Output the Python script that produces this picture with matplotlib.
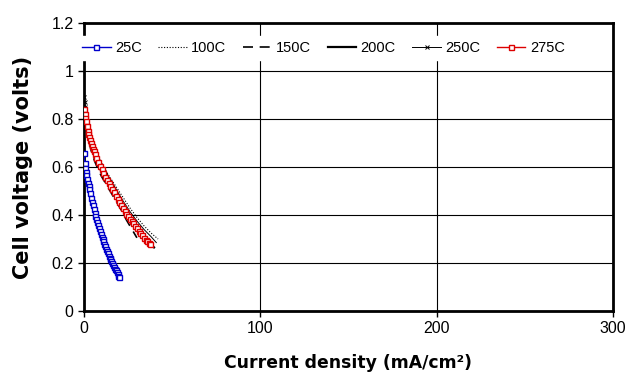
import matplotlib
matplotlib.use("Agg")
import matplotlib.pyplot as plt

# --- data ---
x_25 = [0, 0.3, 0.7, 1.0, 1.4, 1.8, 2.2, 2.6, 3.0, 3.5, 4.0, 4.5, 5.0, 5.5, 6.0,
        6.5, 7.0, 7.5, 8.0, 8.5, 9.0, 9.5, 10.0, 10.5, 11.0, 11.5, 12.0, 12.5,
        13.0, 13.5, 14.0, 14.5, 15.0, 15.5, 16.0, 16.5, 17.0, 17.5, 18.0, 18.5,
        19.0, 19.4, 19.7]
y_25 = [0.66, 0.615, 0.595, 0.58, 0.565, 0.55, 0.535, 0.522, 0.508, 0.49, 0.472,
        0.456, 0.44, 0.425, 0.41, 0.397, 0.385, 0.372, 0.36, 0.347, 0.335, 0.322,
        0.31, 0.30, 0.29, 0.28, 0.27, 0.26, 0.25, 0.24, 0.23, 0.222, 0.215, 0.207,
        0.20, 0.192, 0.185, 0.177, 0.17, 0.162, 0.155, 0.147, 0.14]

x_100 = [0, 1, 2, 4, 6, 8, 10, 14, 18, 22, 26, 30, 34, 38, 42]
y_100 = [0.87, 0.81, 0.775, 0.72, 0.68, 0.645, 0.615, 0.565, 0.52, 0.475, 0.43,
         0.39, 0.355, 0.325, 0.30]

x_150 = [0, 1, 2, 4, 6, 8, 10, 12, 14, 16, 18, 20, 22, 24, 26, 28, 30]
y_150 = [0.84, 0.77, 0.73, 0.67, 0.625, 0.59, 0.56, 0.535, 0.51, 0.485, 0.46,
         0.435, 0.41, 0.38, 0.355, 0.33, 0.305]

x_200 = [0, 1, 2, 4, 6, 8, 10, 14, 18, 22, 26, 30, 34, 38, 39.7]
y_200 = [0.86, 0.79, 0.75, 0.69, 0.645, 0.61, 0.58, 0.525, 0.475, 0.425, 0.38,
         0.34, 0.305, 0.275, 0.265]

x_250 = [0, 0.3, 0.6, 1, 2, 4, 6, 8, 10, 14, 18, 22, 26, 30, 34, 38, 41]
y_250 = [0.89, 0.87, 0.85, 0.82, 0.78, 0.72, 0.68, 0.645, 0.615, 0.56, 0.51,
         0.46, 0.415, 0.375, 0.34, 0.31, 0.285]

x_275 = [0, 0.3, 0.6, 1.0, 1.5, 2.0, 2.5, 3.0, 3.5, 4.0, 4.5, 5.0, 5.5, 6.0, 7.0,
         8.0, 9.0, 10.0, 11.0, 12.0, 13.0, 14.0, 15.0, 16.0, 17.0, 18.0, 19.0,
         20.0, 21.0, 22.0, 23.0, 24.0, 25.0, 26.0, 27.0, 28.0, 29.0, 30.0, 31.0,
         32.0, 33.0, 34.0, 35.0, 36.0, 37.0, 37.4]
y_275 = [0.843, 0.82, 0.805, 0.79, 0.77, 0.75, 0.737, 0.725, 0.712, 0.70, 0.688,
         0.675, 0.665, 0.655, 0.637, 0.62, 0.605, 0.59, 0.575, 0.56, 0.547, 0.535,
         0.522, 0.51, 0.495, 0.48, 0.467, 0.455, 0.442, 0.43, 0.417, 0.405, 0.395,
         0.385, 0.375, 0.365, 0.355, 0.345, 0.335, 0.325, 0.315, 0.305, 0.297,
         0.29, 0.282, 0.278]

x_ticks = [0, 100, 200, 300]
y_ticks = [0, 0.2, 0.4, 0.6, 0.8, 1, 1.2]
y_ticklabels = ["0", "0.2", "0.4", "0.6", "0.8", "1", "1.2"]

fig = plt.figure(figsize=(6.28, 3.85), dpi=100)
ax = fig.add_axes([84 / 628, 1 - 311 / 385, 529 / 628, 288 / 385])

ax.plot(x_25, y_25, color="#0000cc", lw=1, marker="s", ms=3.6, mfc="white",
        mec="#0000cc", mew=1, label="25C", zorder=4)
ax.plot(x_100, y_100, color="black", lw=0.8, ls=(0, (1, 1.5)), label="100C", zorder=3)
ax.plot(x_150, y_150, color="black", lw=1.2, ls=(0, (6, 4)), label="150C", zorder=3)
ax.plot(x_200, y_200, color="black", lw=1.6, label="200C", zorder=3)
ax.plot(x_250, y_250, color="black", lw=0.7, marker="x", ms=3, mew=0.7,
        markevery=[0, 1, 2], label="250C", zorder=3)
ax.plot(x_275, y_275, color="#dd0000", lw=1, marker="s", ms=3.6, mfc="white",
        mec="#dd0000", mew=1, label="275C", zorder=5)

ax.set_xlim(0, 300)
ax.set_ylim(0, 1.2)
ax.set_xticks(x_ticks)
ax.set_yticks(y_ticks)
ax.set_yticklabels(y_ticklabels)
ax.grid(True, color="black", lw=0.8)
ax.set_axisbelow(True)
for s in ax.spines.values():
    s.set_linewidth(2)
ax.tick_params(direction="out", length=4, width=1, labelsize=11.5)
for lab in ax.get_xticklabels() + ax.get_yticklabels():
    lab.set_fontfamily("Liberation Sans")

ax.set_xlabel("Current density (mA/cm²)", fontsize=12.4, fontweight="bold",
              family="DejaVu Sans", labelpad=13)
ax.set_ylabel("Cell voltage (volts)", fontsize=15, fontweight="bold",
              family="DejaVu Sans", labelpad=13)

leg = ax.legend(loc="center left", bbox_to_anchor=(77 / 628, 1 - 48 / 385),
                bbox_transform=fig.transFigure, ncol=6, frameon=True,
                fancybox=False, edgecolor="white", framealpha=1,
                prop={"family": "Liberation Sans", "size": 10.5},
                handlelength=1.95, columnspacing=1.15, handletextpad=0.3,
                borderpad=0.35, borderaxespad=0)

fig.savefig("out.png", dpi=100)
